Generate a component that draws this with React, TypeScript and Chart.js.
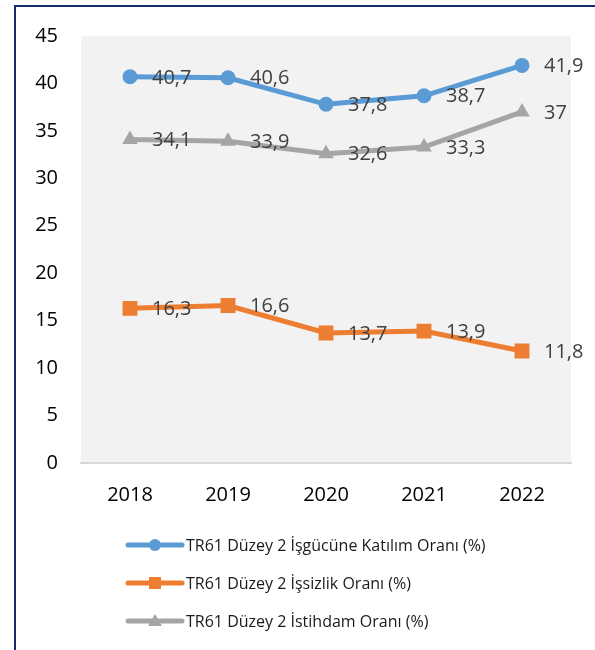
import React, { useEffect, useRef } from "react";
import { Chart, registerables } from "chart.js";

Chart.register(...registerables);

const categories = ["2018", "2019", "2020", "2021", "2022"];
const katilimValues = [40.7, 40.6, 37.8, 38.7, 41.9];
const issizlikValues = [16.3, 16.6, 13.7, 13.9, 11.8];
const istihdamValues = [34.1, 33.9, 32.6, 33.3, 37];
const seriesLabels = [
  "TR61 Düzey 2 İşgücüne Katılım Oranı (%)",
  "TR61 Düzey 2 İşsizlik Oranı (%)",
  "TR61 Düzey 2 İstihdam Oranı (%)",
];
const yMin = 0;
const yMax = 45;
const yStep = 5;

const FONT = "'Open Sans', 'DejaVu Sans', sans-serif";

const bgPlugin = {
  id: "plotBg",
  beforeDraw(chart: any) {
    const { ctx, chartArea } = chart;
    ctx.save();
    ctx.fillStyle = "#F2F2F2";
    ctx.fillRect(chartArea.left, chartArea.top, chartArea.right - chartArea.left, chartArea.bottom - chartArea.top);
    ctx.restore();
  },
};

const labelPlugin = {
  id: "valueLabels",
  afterDatasetsDraw(chart: any) {
    const { ctx } = chart;
    ctx.save();
    ctx.font = `20px ${FONT}`;
    ctx.fillStyle = "#404040";
    ctx.textAlign = "left";
    ctx.textBaseline = "middle";
    chart.data.datasets.forEach((ds: any, i: number) => {
      const meta = chart.getDatasetMeta(i);
      meta.data.forEach((pt: any, j: number) => {
        const v = ds.data[j];
        ctx.fillText(String(v).replace(".", ","), pt.x + 22, pt.y + 1);
      });
    });
    ctx.restore();
  },
};

const legendPlugin = {
  id: "customLegend",
  afterDraw(chart: any) {
    const { ctx } = chart;
    const rows = [545, 583, 621];
    ctx.save();
    chart.data.datasets.forEach((ds: any, i: number) => {
      const y = rows[i];
      const x0 = 128;
      const x1 = 182;
      const cx = (x0 + x1) / 2;
      ctx.strokeStyle = ds.borderColor;
      ctx.lineWidth = 5;
      ctx.lineCap = "round";
      ctx.beginPath();
      ctx.moveTo(x0, y);
      ctx.lineTo(x1, y);
      ctx.stroke();
      ctx.fillStyle = ds.borderColor;
      ctx.beginPath();
      if (ds.pointStyle === "circle") {
        ctx.arc(cx, y, 6, 0, Math.PI * 2);
        ctx.fill();
      } else if (ds.pointStyle === "rect") {
        ctx.fillRect(cx - 6, y - 6, 12, 12);
      } else {
        ctx.moveTo(cx, y - 7);
        ctx.lineTo(cx + 7, y + 5);
        ctx.lineTo(cx - 7, y + 5);
        ctx.closePath();
        ctx.fill();
      }
      ctx.font = `16px ${FONT}`;
      ctx.fillStyle = "#1a1a1a";
      ctx.textAlign = "left";
      ctx.textBaseline = "middle";
      ctx.fillText(ds.label, 186, y + 1);
    });
    ctx.restore();
  },
};

export default function App() {
  const ref = useRef<HTMLCanvasElement>(null);
  useEffect(() => {
    if (!ref.current) return;
    const chart = new Chart(ref.current, {
      type: "line",
      data: {
        labels: categories,
        datasets: [
          {
            label: seriesLabels[0],
            data: katilimValues,
            borderColor: "#5B9BD5",
            backgroundColor: "#5B9BD5",
            borderWidth: 5,
            pointStyle: "circle",
            pointRadius: 7.5,
            pointBorderWidth: 0,
            tension: 0,
          },
          {
            label: seriesLabels[1],
            data: issizlikValues,
            borderColor: "#ED7D31",
            backgroundColor: "#ED7D31",
            borderWidth: 5,
            pointStyle: "rect",
            pointRadius: 10.5,
            pointBorderWidth: 0,
            tension: 0,
          },
          {
            label: seriesLabels[2],
            data: istihdamValues,
            borderColor: "#A5A5A5",
            backgroundColor: "#A5A5A5",
            borderWidth: 5,
            pointStyle: "triangle",
            pointRadius: 9,
            pointBorderWidth: 0,
            tension: 0,
          },
        ],
      },
      options: {
        responsive: false,
        animation: false,
        layout: { padding: { top: 36, right: 24, bottom: 143, left: 0 } },
        plugins: {
          legend: { display: false },
          tooltip: { enabled: false },
        },
        scales: {
          x: {
            offset: true,
            grid: { display: false, drawTicks: false },
            border: { display: true, color: "#D9D9D9", width: 2 },
            ticks: { color: "#000000", font: { family: FONT, size: 20 }, padding: 20 },
            afterFit: (scale: any) => {
              scale.height = 44;
            },
          },
          y: {
            min: yMin,
            max: yMax,
            grid: { display: false, drawTicks: false },
            border: { display: false },
            ticks: { stepSize: yStep, color: "#000000", font: { family: FONT, size: 20 }, padding: 23 },
            afterFit: (scale: any) => {
              scale.width = 81;
            },
          },
        },
      },
      plugins: [bgPlugin, labelPlugin, legendPlugin],
    });
    return () => chart.destroy();
  }, []);
  return (
    <div style={{ position: "absolute", left: 0, top: 0, width: 595, height: 650, overflow: "hidden", background: "#fff" }}>
      <div
        style={{
          position: "absolute",
          left: 14,
          top: 5,
          width: 620,
          height: 680,
          border: "2px solid #132F6E",
          boxSizing: "border-box",
        }}
      />
      <canvas ref={ref} width={595} height={650} style={{ position: "absolute", left: 0, top: 0 }} />
    </div>
  );
}
